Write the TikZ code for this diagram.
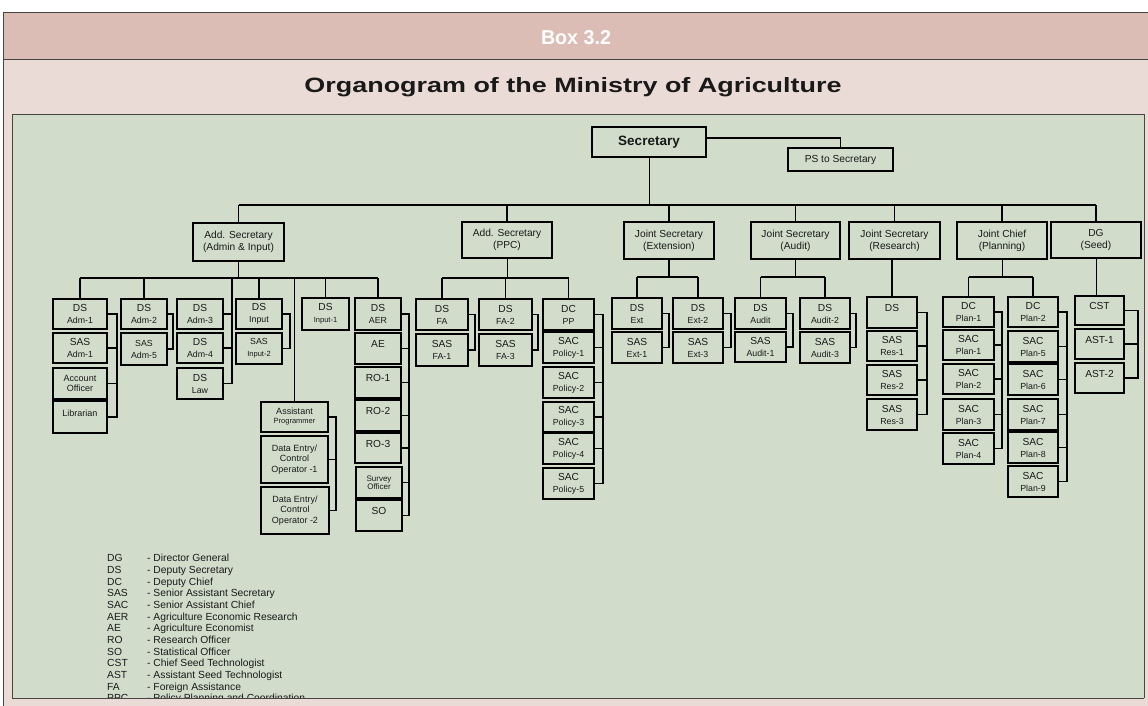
\documentclass[tikz,border=0pt]{standalone}
\usepackage{fontspec}
\setmainfont{Liberation Sans}
\usepackage{graphicx}
\definecolor{hdr}{RGB}{220,189,181}
\definecolor{ttl}{RGB}{234,219,215}
\definecolor{grn}{RGB}{209,220,203}
\definecolor{frm}{RGB}{70,70,70}
\definecolor{ink}{RGB}{25,25,25}
\newcommand\tA{\fontsize{10.2}{12}\selectfont}
\newcommand\tB{\fontsize{8.8}{10}\selectfont}
\newcommand\tC{\fontsize{7.5}{9}\selectfont}
\newcommand\tD{\fontsize{9}{10.5}\selectfont}
\newcommand\ob[7][]{\node[box,#1,minimum width={(#4-#2)*1pt},minimum height={(#5-#3)*1pt}] (#6) at ({(#2+#4)/2},{(#3+#5)/2}) {#7};}
\newcommand\brk[3]{\coordinate (tmpx) at (#1,0);
  \foreach \n in {#3} {\draw[ln] (#2.east) -| (tmpx |- \n.east) -- (\n.east);}}
\tikzset{
  box/.style={draw=black,line width=1.5pt,fill=grn,inner sep=0pt,align=center,font=\tA,text=ink},
  lvl/.style={line width=2pt},
  up/.style={text height=7.5pt,text depth=9pt},
  ln/.style={line width=1.4pt,black},
}
\begin{document}
\begin{tikzpicture}[x=1pt,y=-1pt]
\useasboundingbox (0,0) rectangle (1148,705);
\fill[white] (0,0) rectangle (1148,705);
\fill[hdr] (3,12) rectangle (1150,59);
\fill[ttl] (3,59) rectangle (1150,708);
\draw[frm,line width=0.8pt] (1150,12) -- (3,12) -- (3,708);
\draw[frm,line width=0.8pt] (3,59) -- (1150,59);
\fill[grn] (12,114) rectangle (1144,698);
\draw[frm,line width=0.8pt] (12,114) rectangle (1144,698);
\node[anchor=base,text=white,inner sep=0pt] (boxno) at (576,44) {\resizebox{70pt}{14pt}{\bfseries Box 3.2}};
\node[anchor=base,text=ink,inner sep=0pt] (title) at (573,92) {\resizebox{537pt}{15pt}{\bfseries Organogram of the Ministry of Agriculture}};

% top
\ob[line width=2.4pt]{592}{127}{706}{157}{sec}{\fontsize{13.5}{15}\selectfont\bfseries Secretary}
\ob[lvl]{788}{148}{893}{171}{ps}{PS to Secretary}
% level 1
\ob[lvl]{193}{223}{284}{261}{ad1}{Add. Secretary\\(Admin \& Input)}
\ob[lvl]{462}{222}{552}{258}{ad2}{Add. Secretary\\(PPC)}
\ob[lvl]{624}{222}{714}{259}{js1}{Joint Secretary\\(Extension)}
\ob[lvl]{751}{222}{840}{259}{js2}{Joint Secretary\\(Audit)}
\ob[lvl]{849}{222}{940}{259}{js3}{Joint Secretary\\(Research)}
\ob[lvl]{957}{222}{1047}{259}{jc}{Joint Chief\\(Planning)}
\ob[lvl]{1051}{222}{1141}{258}{dg}{DG\\(Seed)}
% admin & input
\ob{53}{299}{107}{329}{a1}{DS\\\tB Adm-1}
\ob{53}{333}{107}{363}{a2}{SAS\\\tB Adm-1}
\ob[font=\tD]{53}{368}{107}{399}{a3}{Account\\Officer}
\ob[up,font=\tD]{53}{401}{107}{433}{a4}{Librarian}
\ob{121}{299}{167}{329}{b1}{DS\\\tB Adm-2}
\ob{121}{333}{167}{365}{b2}{\tB SAS\\\tB Adm-5}
\ob{177}{299}{223}{329}{c1}{DS\\\tB Adm-3}
\ob{177}{333}{223}{363}{c2}{DS\\\tB Adm-4}
\ob{177}{368}{223}{399}{c3}{DS\\\tB Law}
\ob{236}{299}{282}{329}{d1}{DS\\\tB Input}
\ob{236}{333}{282}{364}{d2}{\tB SAS\\\tC Input-2}
\ob{302}{298}{349}{330}{e1}{DS\\\tC Input-1}
\ob{355}{298}{401}{330}{f1}{DS\\\tB AER}
\ob[up]{355}{333}{401}{364}{f2}{AE}
\ob[up]{355}{367}{401}{398}{f3}{RO-1}
\ob[up]{355}{400}{401}{431}{f4}{RO-2}
\ob[up]{355}{433}{401}{463}{f5}{RO-3}
\ob[font=\fontsize{8}{8.5}\selectfont]{356}{467}{402}{498}{f6}{Survey\\Officer}
\ob[up]{356}{500}{402}{531}{f7}{SO}
\ob[font=\fontsize{9}{9}\selectfont]{261}{402}{328}{432}{g1}{Assistant\\\tC Programmer}
\ob[font=\tD]{261}{436}{328}{483}{g2}{Data Entry/\\Control\\Operator -1}
\ob[font=\tD]{261}{487}{329}{534}{g3}{Data Entry/\\Control\\Operator -2}
% PPC
\ob{416}{299}{468}{330}{h1}{DS\\\tB FA}
\ob{416}{334}{468}{366}{h2}{SAS\\\tB FA-1}
\ob{479}{299}{532}{330}{i1}{DS\\\tB FA-2}
\ob{479}{334}{532}{366}{i2}{SAS\\\tB FA-3}
\ob{543}{299}{594}{330}{j1}{DC\\\tB PP}
\ob{543}{332}{594}{363}{j2}{SAC\\\tB Policy-1}
\ob{543}{367}{594}{398}{j3}{SAC\\\tB Policy-2}
\ob{543}{402}{594}{432}{j4}{SAC\\\tB Policy-3}
\ob{543}{433}{594}{464}{j5}{SAC\\\tB Policy-4}
\ob{543}{468}{594}{499}{j6}{SAC\\\tB Policy-5}
% extension
\ob{612}{298}{662}{329}{k1}{DS\\\tB Ext}
\ob{612}{332}{662}{363}{k2}{SAS\\\tB Ext-1}
\ob{673}{298}{723}{329}{l1}{DS\\\tB Ext-2}
\ob{673}{332}{723}{363}{l2}{SAS\\\tB Ext-3}
% audit
\ob{735}{298}{786}{329}{m1}{DS\\\tB Audit}
\ob{735}{332}{786}{362}{m2}{SAS\\\tB Audit-1}
\ob{800}{298}{850}{329}{n1}{DS\\\tB Audit-2}
\ob{800}{332}{850}{363}{n2}{SAS\\\tB Audit-3}
% research
\ob[up]{867}{297}{917}{328}{o1}{DS}
\ob{867}{331}{917}{361}{o2}{SAS\\\tB Res-1}
\ob{867}{365}{917}{395}{o3}{SAS\\\tB Res-2}
\ob{867}{399}{917}{430}{o4}{SAS\\\tB Res-3}
% planning
\ob{943}{297}{994}{327}{p1}{DC\\\tB Plan-1}
\ob{943}{330}{994}{360}{p2}{SAC\\\tB Plan-1}
\ob{943}{364}{994}{394}{p3}{SAC\\\tB Plan-2}
\ob{943}{399}{994}{430}{p4}{SAC\\\tB Plan-3}
\ob{943}{433}{994}{464}{p5}{SAC\\\tB Plan-4}
\ob{1008}{297}{1058}{327}{q1}{DC\\\tB Plan-2}
\ob{1008}{331}{1058}{362}{q2}{SAC\\\tB Plan-5}
\ob{1008}{364}{1058}{395}{q3}{SAC\\\tB Plan-6}
\ob{1008}{399}{1058}{430}{q4}{SAC\\\tB Plan-7}
\ob{1008}{432}{1058}{463}{q5}{SAC\\\tB Plan-8}
\ob{1008}{466}{1058}{497}{q6}{SAC\\\tB Plan-9}
% seed
\ob[up]{1075}{296}{1124}{325}{r1}{CST}
\ob[up]{1075}{329}{1124}{359}{r2}{AST-1}
\ob[up]{1075}{363}{1124}{393}{r3}{AST-2}

% buses
\coordinate (busT) at (0,205);
\coordinate (busA) at (0,278);
\coordinate (busS) at (0,277);
\draw[ln,line width=1pt] (sec.south) -- (sec.south |- busT);
\draw[ln] ([yshift=4pt]sec.east) -| (ps.north);
\draw[ln] (ad1.north |- busT) -- (dg.north |- busT);
\foreach \n in {ad1,ad2,js1,js2,js3,jc,dg} {\draw[ln] (\n.north |- busT) -- (\n.north);}
% admin
\coordinate (xc) at (232,0);
\draw[ln,line width=1pt] (ad1.south) -- (ad1.south |- busA);
\draw[ln] (a1.north |- busA) -- (f1.north |- busA);
\foreach \n in {a1,b1,d1,e1,f1,g1} {\draw[ln] (\n.north |- busA) -- (\n.north);}
\draw[ln] (xc |- busA) -- (xc |- c3.east) -- (c3.east);
\draw[ln] (c1.east) -- (c1.east -| xc);
\draw[ln] (c2.east) -- (c2.east -| xc);
\brk{117}{a1}{a2,a3,a4}
\brk{173}{b1}{b2}
\brk{290}{d1}{d2}
\brk{409}{f1}{f2,f3,f4,f5,f6,f7}
\brk{336}{g1}{g2,g3}
% PPC
\draw[ln,line width=1pt] (ad2.south) -- (ad2.south |- busA);
\draw[ln] (h1.north |- busA) -- (j1.north |- busA);
\foreach \n in {h1,i1,j1} {\draw[ln] (\n.north |- busA) -- (\n.north);}
\brk{475}{h1}{h2}
\brk{538}{i1}{i2}
\brk{603}{j1}{j2,j3,j4,j5,j6}
% extension
\draw[ln] (js1.south) -- (js1.south |- busS);
\draw[ln] (k1.north |- busS) -- (l1.north |- busS);
\foreach \n in {k1,l1} {\draw[ln] (\n.north |- busS) -- (\n.north);}
\brk{669}{k1}{k2}
\brk{731}{l1}{l2}
% audit
\draw[ln] (js2.south) -- (js2.south |- busS);
\draw[ln] (m1.north |- busS) -- (n1.north |- busS);
\foreach \n in {m1,n1} {\draw[ln] (\n.north |- busS) -- (\n.north);}
\brk{793}{m1}{m2}
\brk{856}{n1}{n2}
% research
\draw[ln] (o1.north |- js3.south) -- (o1.north);
\brk{927}{o1}{o2,o3,o4}
% planning
\draw[ln,line width=1pt] (jc.south) -- (jc.south |- busS);
\draw[ln] (p1.north |- busS) -- (q1.north |- busS);
\foreach \n in {p1,q1} {\draw[ln] (\n.north |- busS) -- (\n.north);}
\brk{1002}{p1}{p2,p3,p4,p5}
\brk{1067}{q1}{q2,q3,q4,q5,q6}
% seed
\draw[ln,line width=1pt] (dg.south) -- (dg.south |- r1.north);
\brk{1138}{r1}{r2,r3}

% legend
\node[anchor=north west,inner sep=0pt,text=ink,font=\fontsize{10.3}{11.67}\selectfont] (legend) at (107,553.4) {%
\begin{tabular}{@{}p{40pt}@{}l@{}}
DG & - Director General\\
DS & - Deputy Secretary\\
DC & - Deputy Chief\\
SAS & - Senior Assistant Secretary\\
SAC & - Senior Assistant Chief\\
AER & - Agriculture Economic Research\\
AE & - Agriculture Economist\\
RO & - Research Officer\\
SO & - Statistical Officer\\
CST & - Chief Seed Technologist\\
AST & - Assistant Seed Technologist\\
FA & - Foreign Assistance\\
PPC & - Policy Planning and Coordination
\end{tabular}};
\fill[ttl] (3,698.4) rectangle (1150,708);
\draw[frm,line width=0.8pt] (12,698) -- (1144,698);
\draw[frm,line width=0.8pt] (3,698) -- (3,708);
\end{tikzpicture}
\end{document}
